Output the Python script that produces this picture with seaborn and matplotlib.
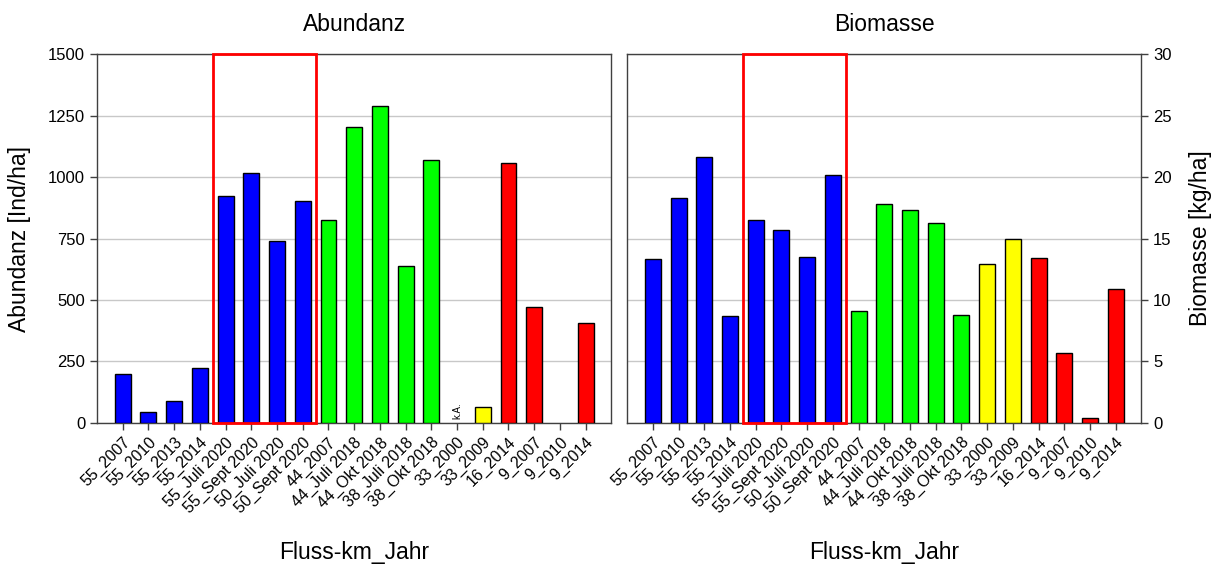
import numpy as np
import pandas as pd
from matplotlib import pyplot as plt
from matplotlib.patches import Rectangle
import seaborn as sns

sns.set_theme(style="white")
plt.rcParams["font.family"] = ["Liberation Sans", "DejaVu Sans"]
plt.rcParams["text.color"] = "black"
plt.rcParams["axes.labelcolor"] = "black"

labels = ["55_2007", "55_2010", "55_2013", "55_2014", "55_Juli 2020", "55_Sept 2020",
          "50_Juli 2020", "50_Sept 2020", "44_2007", "44_Juli 2018", "44_Okt 2018",
          "38_Juli 2018", "38_Okt 2018", "33_2000", "33_2009", "16_2014",
          "9_2007", "9_2010", "9_2014"]
abundanz = [200, 45, 90, 225, 925, 1018, 738, 903, 826, 1205, 1290,
            637, 1070, np.nan, 63, 1057, 470, np.nan, 408]
biomasse = [13.3, 18.3, 21.65, 8.7, 16.5, 15.7, 13.5, 20.2, 9.1, 17.8, 17.3,
            16.3, 8.8, 12.9, 15.0, 13.4, 5.7, 0.4, 10.9]
colors = ["#0000ff"] * 8 + ["#00ff00"] * 5 + ["#ffff00"] * 2 + ["#ff0000"] * 4

df = pd.DataFrame({"Fluss-km_Jahr": labels, "Abundanz": abundanz, "Biomasse": biomasse})
pal = dict(zip(labels, colors))

fig = plt.figure(figsize=(12.13, 5.70), dpi=100)
ax1 = fig.add_axes([0.080, 0.258, 0.424, 0.647])
ax2 = fig.add_axes([0.517, 0.258, 0.424, 0.647])

for ax, col, ymax, step in [(ax1, "Abundanz", 1500, 250), (ax2, "Biomasse", 30, 5)]:
    sns.barplot(df, x="Fluss-km_Jahr", y=col, hue="Fluss-km_Jahr", order=labels,
                palette=pal, saturation=1, legend=False, width=0.62,
                edgecolor="black", linewidth=1, ax=ax, zorder=3)
    ax.set_xlim(-1, 19)
    ax.set_ylim(0, ymax)
    ax.set_yticks(np.arange(0, ymax + step, step))
    ax.yaxis.grid(True, color="#c8c8c8", linewidth=1, zorder=0)
    ax.set_axisbelow(True)
    for s in ax.spines.values():
        s.set_color("#404040")
        s.set_linewidth(1)
    ax.tick_params(axis="both", direction="out", length=5, width=1, color="#404040",
                   labelsize=12, labelcolor="black")
    ax.tick_params(axis="x", bottom=True, labelsize=11.5)
    ax.set_xticks(range(len(labels)))
    ax.set_xticklabels(labels, rotation=45, ha="right", rotation_mode="anchor")
    ax.set_xlabel("Fluss-km_Jahr", fontsize=16.5, labelpad=18)
    ax.set_title(col, fontsize=16.5, pad=17)
    ax.add_patch(Rectangle((3.5, 0), 4.0, ymax, fill=False, edgecolor="#ff0000",
                           linewidth=2, zorder=5, clip_on=False))

ax1.tick_params(axis="y", left=True)
ax1.set_ylabel("Abundanz [Ind/ha]", fontsize=16.5, labelpad=12)
ax1.text(13, 15, "k.A.", rotation=90, fontsize=7, ha="center", va="bottom")

ax2.yaxis.tick_right()
ax2.yaxis.set_label_position("right")
ax2.tick_params(axis="y", right=True, left=False)
ax2.set_ylabel("Biomasse [kg/ha]", fontsize=16.5, labelpad=12)

fig.savefig("out.png", dpi=100)
